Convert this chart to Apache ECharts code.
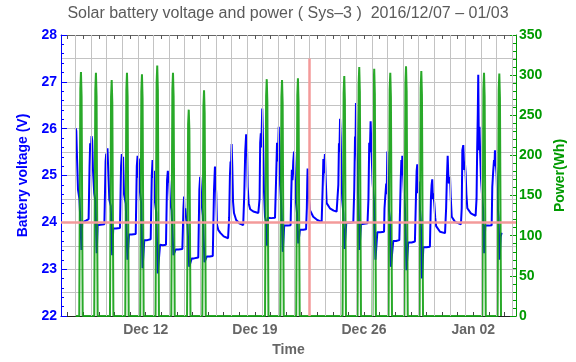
<!DOCTYPE html>
<html>
<head>
<meta charset="utf-8">
<script src="https://cdn.jsdelivr.net/npm/echarts@6/dist/echarts.min.js"></script>
<style>
html,body{margin:0;padding:0;background:#fff;}
#chart{width:576px;height:362px;}
</style>
</head>
<body>
<div id="chart"></div>
<script>
// x values: days since 2016-12-01 00:00 (Dec 12 = 11, Jan 02 = 32)
const xLabelDays = [11, 18, 25, 32];
const xLabelTexts = ['Dec 12', 'Dec 19', 'Dec 26', 'Jan 02'];
const voltTicks = [22, 23, 24, 25, 26, 27, 28];
const powerTicks = [0, 50, 100, 150, 200, 250, 300, 350];
const refVoltage = 24;
const refDay = 21.5;
const refTop = 27.5;

// Battery voltage (V)
const voltageWeek1 = [
[6.51,26.01],[6.55,25.95],[6.60,25.35],[6.66,24.70],[6.75,24.50],[6.83,23.90],[6.88,23.41],[6.93,24.00],[7.05,24.03],[7.20,24.04],[7.34,24.07],
[7.40,25.20],[7.44,25.69],[7.49,25.55],[7.53,25.84],[7.57,25.75],[7.62,25.12],[7.70,24.62],[7.78,24.45],[7.86,23.34],[7.92,23.94],[8.10,23.95],[8.35,23.96],
[8.43,25.30],[8.47,25.47],[8.51,25.25],[8.55,25.58],[8.60,25.10],[8.67,24.48],[8.76,24.35],[8.85,23.30],[8.92,23.87],[9.10,23.87],[9.35,23.88],
[9.42,25.20],[9.47,25.46],[9.51,25.10],[9.55,25.40],[9.61,24.60],[9.72,24.40],[9.83,23.20],[9.93,23.74],[10.10,23.74],[10.36,23.75],
[10.43,25.20],[10.48,25.42],[10.52,24.95],[10.56,25.36],[10.62,24.70],[10.71,24.40],[10.80,23.02],[10.91,23.62],[11.10,23.62],[11.32,23.64],
[11.39,25.00],[11.44,25.33],[11.49,24.95],[11.53,25.10],[11.59,24.45],[11.68,24.20],[11.77,22.91],[11.92,23.52],[12.10,23.51],[12.30,23.52],
[12.37,24.90],[12.42,25.10],[12.46,24.85],[12.50,24.90],[12.56,24.44],[12.66,24.25],[12.78,23.30],[12.92,23.42],[13.10,23.42],[13.35,23.43]
];
const voltageWeek2 = [
[13.42,24.30],[13.46,24.55],[13.50,24.12],[13.54,24.30],[13.60,24.05],[13.68,23.95],[13.79,23.05],[13.95,23.23],[14.10,23.23],[14.37,23.25],
[14.44,24.70],[14.49,24.97],[14.53,24.75],[14.58,24.41],[14.66,24.15],[14.77,23.15],[14.91,23.27],[15.10,23.27],[15.30,23.28],
[15.38,24.70],[15.44,25.19],[15.48,24.90],[15.52,24.62],[15.57,23.95],[15.65,23.84],[15.80,23.77],[16.00,23.70],[16.28,23.66],
[16.35,24.10],[16.40,25.00],[16.44,25.30],[16.47,25.20],[16.51,25.67],[16.55,25.20],[16.60,24.44],[16.66,24.20],[16.80,24.05],[17.00,23.98],[17.25,23.94],
[17.32,24.60],[17.38,25.50],[17.44,25.88],[17.49,25.70],[17.54,24.76],[17.60,24.41],[17.70,24.28],[17.90,24.23],[18.22,24.20],
[18.30,24.50],[18.34,25.70],[18.38,25.90],[18.41,25.60],[18.44,26.00],[18.47,26.43],[18.52,25.80],[18.58,24.69],[18.65,24.12],[18.72,24.00],[18.78,23.50],[18.84,24.10],[19.05,24.09],[19.29,24.10],
[19.35,24.80],[19.42,25.70],[19.45,25.30],[19.49,25.50],[19.53,26.04],[19.57,25.60],[19.62,24.80],[19.70,24.30],[19.79,23.37],[19.88,23.93],[20.10,23.93],[20.29,23.94]
];
const voltageWeek3 = [
[20.33,24.60],[20.37,25.12],[20.41,24.90],[20.46,25.30],[20.51,25.51],[20.56,25.00],[20.63,24.44],[20.70,24.20],[20.78,23.55],[20.89,23.84],[21.10,23.84],[21.28,23.85],
[21.33,24.30],[21.36,24.90],[21.38,25.15],[21.42,24.80],[21.47,24.50],[21.53,24.26],[21.74,24.12],[22.00,24.05],[22.28,24.01],
[22.35,24.80],[22.39,25.35],[22.42,25.05],[22.46,25.30],[22.49,25.46],[22.53,25.00],[22.60,24.41],[22.81,24.30],[23.05,24.25],[23.24,24.23],
[23.35,24.80],[23.39,25.69],[23.42,25.50],[23.46,26.21],[23.50,25.83],[23.55,25.00],[23.60,24.48],[23.67,24.20],[23.75,23.43],[23.86,23.99],[24.05,23.99],[24.31,24.00],
[24.37,24.70],[24.42,25.83],[24.45,25.60],[24.48,26.55],[24.52,25.60],[24.58,24.90],[24.64,24.40],[24.71,23.41],[24.80,23.96],[25.00,23.97],[25.22,23.98],
[25.28,24.50],[25.33,25.70],[25.37,25.50],[25.42,26.16],[25.47,25.60],[25.55,24.83],[25.63,24.48],[25.73,23.20],[25.85,23.79],[26.05,23.79],[26.28,23.80],
[26.31,24.30],[26.36,24.55],[26.42,24.83],[26.45,24.60],[26.49,25.51],[26.53,25.00],[26.58,24.30],[26.65,24.10],[26.72,23.05],[26.87,23.60],[27.05,23.60],[27.26,23.62]
];
const voltageWeek4 = [
[27.35,24.90],[27.39,25.33],[27.42,25.00],[27.45,25.42],[27.48,25.20],[27.51,24.97],[27.56,24.60],[27.63,24.26],[27.72,22.98],[27.83,23.57],[28.05,23.57],[28.26,23.59],
[28.33,24.60],[28.37,25.10],[28.41,25.24],[28.45,24.62],[28.50,24.87],[28.54,24.50],[28.59,24.26],[28.64,24.00],[28.71,22.80],[28.80,23.47],[29.00,23.47],[29.22,23.48],
[29.29,24.55],[29.33,24.80],[29.37,24.92],[29.41,24.50],[29.44,24.62],[29.50,24.41],[29.56,24.10],[29.62,23.92],[29.87,23.80],[30.19,23.77],
[30.26,24.30],[30.30,24.83],[30.36,25.42],[30.41,24.90],[30.44,24.83],[30.51,24.97],[30.56,24.50],[30.62,24.12],[30.83,24.01],[31.21,23.96],
[31.26,24.30],[31.30,25.54],[31.36,25.65],[31.42,25.12],[31.46,25.30],[31.51,25.05],[31.56,24.60],[31.62,24.30],[31.85,24.19],[32.15,24.14],
[32.21,24.50],[32.25,25.54],[32.29,26.30],[32.32,27.15],[32.36,25.54],[32.40,26.04],[32.44,25.50],[32.49,24.97],[32.56,24.60],[32.63,24.30],[32.70,23.34],[32.77,23.93],[33.00,23.93],[33.18,23.94],
[33.22,24.76],[33.28,25.10],[33.33,25.33],[33.36,25.20],[33.39,25.54],[33.46,25.57],[33.50,25.00],[33.54,24.48],[33.62,24.10],[33.69,23.20],[33.76,23.70],[33.82,23.78]
];

// Power (Wh)
const powerWeek1 = [
[6.50,0],
[6.74,0],[6.81,283],[6.85,304],[6.89,274],[6.96,0],
[7.70,0],[7.77,282],[7.81,303],[7.85,273],[7.92,0],
[8.71,0],[8.78,273],[8.82,294],[8.86,265],[8.93,0],
[9.69,0],[9.76,282],[9.80,303],[9.84,273],[9.91,0],
[10.65,0],[10.72,280],[10.76,301],[10.80,271],[10.87,0],
[11.63,0],[11.70,290],[11.74,312],[11.78,281],[11.85,0],
[12.64,0],[12.71,282],[12.75,303],[12.79,273],[12.86,0]
];
const powerWeek2 = [
[13.65,0],[13.72,239],[13.76,257],[13.80,231],[13.87,0],
[14.63,0],[14.70,261],[14.74,281],[14.78,253],[14.85,0],
[18.65,0],[18.72,274],[18.76,295],[18.80,266],[18.87,0],
[19.63,0],[19.70,273],[19.74,294],[19.78,265],[19.85,0]
];
const powerWeek3 = [
[20.65,0],[20.72,275],[20.76,296],[20.80,266],[20.87,0],
[23.62,0],[23.69,278],[23.73,299],[23.77,269],[23.84,0],
[24.58,0],[24.65,288],[24.69,310],[24.73,279],[24.80,0],
[25.54,0],[25.61,286],[25.65,308],[25.69,277],[25.76,0],
[26.57,0],[26.64,282],[26.68,303],[26.72,273],[26.79,0]
];
const powerWeek4 = [
[27.58,0],[27.65,289],[27.69,311],[27.73,280],[27.80,0],
[28.56,0],[28.63,284],[28.67,305],[28.71,275],[28.78,0],
[32.58,0],[32.65,282],[32.69,303],[32.73,273],[32.80,0],
[33.56,0],[33.63,281],[33.67,302],[33.71,272],[33.78,0],
[33.82,0]
];

const voltage = voltageWeek1.concat(voltageWeek2, voltageWeek3, voltageWeek4);
const power = powerWeek1.concat(powerWeek2, powerWeek3, powerWeek4);

const xMin = 5.57, xMax = 34.74;
const dayTicks = [];
for (let d = Math.ceil(xMin); d <= Math.floor(xMax); d++) dayTicks.push(d);
const noonLines = dayTicks.map(d => d + 0.5).filter(v => v < xMax);

const BLUE = '#0000ff';
const GREEN = '#009a00';
const GRAY = '#666666';
const FONT = 'Liberation Sans, Arial, Helvetica, sans-serif';

const chart = echarts.init(document.getElementById('chart'), null, {renderer: 'canvas'});
chart.setOption({
  animation: false,
  backgroundColor: '#ffffff',
  title: {
    text: 'Solar battery voltage and power ( Sys\u20133 )  2016/12/07 \u2013 01/03',
    left: 'center',
    top: 1,
    textStyle: {color: '#5a5a5a', fontSize: 16, fontWeight: 'normal', fontFamily: FONT}
  },
  grid: {left: 61, right: 60, top: 35, bottom: 46, containLabel: false},
  xAxis: [
    {
      type: 'value', min: xMin, max: xMax, position: 'bottom',
      axisLine: {onZero: false, lineStyle: {color: '#222', width: 1}},
      axisTick: {inside: true, length: 4, customValues: dayTicks, lineStyle: {color: '#444'}},
      axisLabel: {
        customValues: xLabelDays, margin: 7,
        formatter: v => { const i = xLabelDays.indexOf(Math.round(v)); return i >= 0 ? xLabelTexts[i] : ''; },
        color: GRAY, fontSize: 14, fontWeight: 'bold', fontFamily: FONT
      },
      splitLine: {show: false},
      name: 'Time', nameLocation: 'middle', nameGap: 27,
      nameTextStyle: {color: GRAY, fontSize: 14, fontWeight: 'bold', fontFamily: FONT}
    },
    {
      type: 'value', min: xMin, max: xMax, position: 'top',
      axisLine: {onZero: false, lineStyle: {color: '#666', width: 1}},
      axisTick: {inside: true, length: 4, customValues: dayTicks, lineStyle: {color: '#555'}},
      axisLabel: {show: false},
      splitLine: {show: false}
    }
  ],
  yAxis: [
    {
      type: 'value', min: 22, max: 28, interval: 1, position: 'left',
      axisLine: {show: true, onZero: false, lineStyle: {color: BLUE, width: 1}},
      axisTick: {show: true, inside: true, length: 6, lineStyle: {color: BLUE}},
      minorTick: {show: true, splitNumber: 5, length: 3, lineStyle: {color: BLUE}},
      axisLabel: {
        margin: 4, color: BLUE, fontSize: 14, fontWeight: 'bold', fontFamily: FONT,
        customValues: voltTicks
      },
      splitLine: {show: false},
      name: 'Battery voltage (V)', nameLocation: 'middle', nameGap: 31,
      nameTextStyle: {color: BLUE, fontSize: 14, fontWeight: 'bold', fontFamily: FONT}
    },
    {
      type: 'value', min: 0, max: 350, interval: 50, position: 'right',
      axisLine: {show: true, onZero: false, lineStyle: {color: GREEN, width: 1}},
      axisTick: {show: true, inside: true, length: 6, lineStyle: {color: GREEN}},
      minorTick: {show: true, splitNumber: 5, length: 3, lineStyle: {color: GREEN}},
      axisLabel: {
        margin: 3, color: GREEN, fontSize: 14, fontWeight: 'bold', fontFamily: FONT,
        customValues: powerTicks
      },
      splitLine: {show: false},
      name: 'Power(Wh)', nameLocation: 'middle', nameGap: 32,
      nameTextStyle: {color: GREEN, fontSize: 14, fontWeight: 'bold', fontFamily: FONT}
    },
    {
      type: 'value', min: 22, max: 28, interval: 0.5, position: 'left',
      axisLine: {show: false}, axisTick: {show: false}, axisLabel: {show: false},
      splitLine: {show: true, lineStyle: {color: '#c3c3c3', width: 1}}
    }
  ],
  series: [
    {
      name: 'grid', type: 'line', data: [], xAxisIndex: 0, yAxisIndex: 0, z: 1, silent: true,
      markLine: {
        silent: true, symbol: ['none', 'none'], label: {show: false}, animation: false,
        lineStyle: {color: '#c3c3c3', width: 1, type: 'solid'},
        emphasis: {disabled: true},
        data: noonLines.map(d => ({xAxis: d}))
      }
    },
    {
      name: 'ref', type: 'line', data: [], xAxisIndex: 0, yAxisIndex: 0, z: 2, silent: true,
      markLine: {
        silent: true, symbol: ['none', 'none'], label: {show: false}, animation: false,
        lineStyle: {color: '#f39a9a', width: 2.5, type: 'solid', opacity: 1},
        emphasis: {disabled: true},
        data: [
          {yAxis: refVoltage, lineStyle: {color: '#f39a9a', width: 2.5}},
          [{coord: [refDay, 22], lineStyle: {color: '#f39a9a', width: 2.5}}, {coord: [refDay, refTop]}]
        ]
      }
    },
    {
      name: 'Battery voltage', type: 'line', data: voltage, xAxisIndex: 0, yAxisIndex: 0, z: 3,
      showSymbol: false, symbol: 'none', smooth: false,
      lineStyle: {color: BLUE, width: 2}, itemStyle: {color: BLUE}
    },
    {
      name: 'Power', type: 'line', data: power, xAxisIndex: 0, yAxisIndex: 1, z: 4,
      showSymbol: false, symbol: 'none', smooth: false,
      lineStyle: {color: '#12a012', width: 2, opacity: 0.9}, itemStyle: {color: GREEN}
    }
  ]
});
</script>
</body>
</html>
